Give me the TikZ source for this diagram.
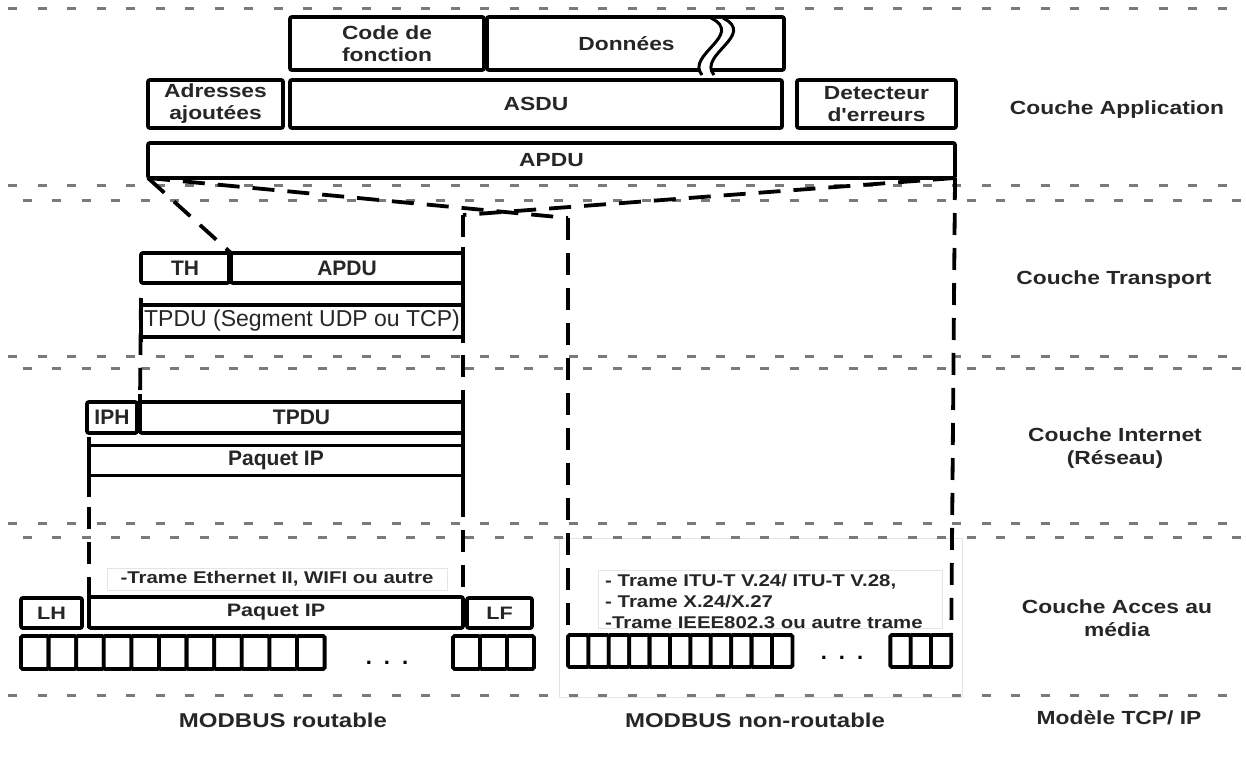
\documentclass[tikz,border=0pt]{standalone}
\usepackage{fontspec}
\setmainfont{Liberation Sans}
\newfontfamily\widesans[FakeStretch=1.2]{Liberation Sans}
\usetikzlibrary{calc}

\begin{document}
\begin{tikzpicture}[x=1pt,y=-1pt,
    sep/.style={draw=black!52,line width=3pt,dash pattern=on 9pt off 20.5pt},
    link/.style={line width=3.8pt,dash pattern=on 22pt off 13pt},
    edge/.style={line width=3.8pt},
    faint/.style={draw=black!10,line width=0.8pt},
    box/.style={draw,fill=white,line width=3.8pt,rounded corners=2pt,inner sep=0pt,outer sep=0pt,text=black!85},
    appbox/.style={box,align=center,font=\widesans\bfseries\fontsize{19}{22}\selectfont},
    midbox/.style={box,font=\bfseries\fontsize{21}{24}\selectfont},
    lowbox/.style={box,font=\widesans\bfseries\fontsize{18}{22}\selectfont},
    bit/.style={box,rounded corners=1.5pt},
    lab/.style={align=center,text=black!85,font=\widesans\bfseries\fontsize{19}{23}\selectfont},
    dots/.style={inner sep=0pt,font=\bfseries\fontsize{22}{22}\selectfont}]
\useasboundingbox (0,0) rectangle (1246,759);
% faint frames
\draw[faint] (559,538) rectangle (962,697);
% layer separators
\foreach \y/\ph in {9/0,186/0,201/15,356/0,368/15,523/0,537/15,695/0}
  \draw[sep,dash phase=\ph pt] (8,\y) -- (1244,\y);
% application layer
\node[appbox,minimum width=194,minimum height=53] (code) at (387,43.5) {Code de\\fonction};
\node[appbox,minimum width=297,minimum height=53] (donnees) at (635.5,43.5) {Donn\'ees\hspace{18pt}};
\fill[white] (712,19) .. controls (746,35) and (686,55) .. (702,75) -- (714,75) .. controls (698,55) and (758,35) .. (724,19) -- cycle;
\draw[line width=3pt] (711,18) .. controls (745,35) and (685,55) .. (702,75);
\draw[line width=3pt] (723,18) .. controls (757,35) and (697,55) .. (714,75);
\node[appbox,minimum width=135,minimum height=48] (adr) at (215.5,104) {Adresses\\ajout\'ees};
\node[appbox,minimum width=492,minimum height=48] (asdu) at (536,104) {ASDU};
\node[appbox,minimum width=159,minimum height=48] (det) at (876.5,104) {Detecteur\\d'erreurs};
\node[appbox,minimum width=807,minimum height=35] (apdu) at (551.5,160.5) {APDU};
% transport layer
\node[midbox,minimum width=88,minimum height=30] (th) at (185,268) {TH};
\node[midbox,minimum width=232,minimum height=30] (apdub) at (347,268) {APDU};
\coordinate (rtop) at (463,215);
\coordinate (ntop) at (568,218);
% internet layer
\node[midbox,minimum width=50,minimum height=31] (iph) at (112,417.5) {IPH};
\node[midbox,minimum width=323,minimum height=31] (tpdu) at (301.5,417.5) {TPDU};
% access layer
\node[lowbox,minimum width=61,minimum height=30] (lh) at (51.5,613) {LH};
\node[lowbox,minimum width=374,minimum height=31] (ipb) at (276,612.5) {Paquet IP};
\node[lowbox,minimum width=65,minimum height=30] (lf) at (499.5,613) {LF};
\foreach \i in {0,...,10} \node[bit,minimum width=27.6,minimum height=33] (rb\i) at ({34.8+27.6*\i},652.5) {};
\foreach \i in {0,1,2} \node[bit,minimum width=27,minimum height=33] (rc\i) at ({466.5+27*\i},652.5) {};
\foreach \i in {0,...,10} \node[bit,minimum width=20.4,minimum height=32] (nb\i) at ({578.2+20.4*\i},651) {};
\foreach \i in {0,1,2} \node[bit,minimum width=20.3,minimum height=32] (nc\i) at ({900.5+20.3*\i},651) {};
% zoom lines
\draw[link] (apdu.south west) -- (apdub.north west);
\draw[link] (apdu.south west) -- (ntop);
\draw[link] (apdu.south east) -- (rtop);
\draw[link] (rtop) -- (ipb.north east);
\draw[link] (ntop) -- (nb0.north west);
\draw[link] (apdu.south east) -- (nc2.north east);
\node[box,rounded corners=0pt,minimum width=322,minimum height=32,font=\fontsize{23}{26}\selectfont] (seg) at (302,321) {TPDU (Segment UDP ou TCP)};
\node[box,rounded corners=0pt,line width=3pt,minimum width=374,minimum height=30,font=\bfseries\fontsize{21}{24}\selectfont] (ip) at (276,460) {Paquet IP};
\draw[link] ([yshift=7pt]seg.north west) -- (tpdu.north west);
\draw[link] ([yshift=8pt]ip.north west) -- (ipb.north west);
\draw[edge] ([yshift=7pt]seg.north west) -- ([yshift=-5pt]seg.south west);
\draw[edge] ([yshift=6pt]apdub.north east) -- ([yshift=-6pt]seg.south east);
\draw[edge] ([yshift=8pt]tpdu.north west) -- (tpdu.south west);
\draw[edge] ([yshift=8pt]ip.north west) -- ([yshift=-22pt]ip.south west);
\draw[edge] ([yshift=8pt]ip.north east) -- ([yshift=-22pt]ip.south east);
\draw[edge] ([yshift=7pt]ipb.north west) -- (ipb.south west);
% frame texts
\node[faint,minimum width=340,minimum height=22,text=black!85,font=\widesans\bfseries\fontsize{17}{21}\selectfont] (eth) at (277,579) {-Trame Ethernet II, WIFI ou autre};
\node[faint,minimum width=344,minimum height=58,inner sep=0pt] (nrf) at (770,599) {};
\node[anchor=west,align=left,inner sep=0pt,text=black!85,font=\widesans\bfseries\fontsize{17}{21}\selectfont] (nrt) at (605,601)
  {- Trame ITU-T V.24/ ITU-T V.28,\\- Trame X.24/X.27\\-Trame IEEE802.3 ou autre trame};
\node[dots] (rdots) at (387,663) {.\hspace{12pt}.\hspace{12pt}.};
\node[dots] (ndots) at (842,658) {.\hspace{12pt}.\hspace{12pt}.};
% layer names
\node[lab] (lapp) at (1117,110) {Couche Application};
\node[lab] (ltra) at (1114,280) {Couche Transport};
\node[lab] (lint) at (1115,448) {Couche Internet\\(R\'eseau)};
\node[lab] (lacc) at (1117,618) {Couche Acces au\\m\'edia};
\node[lab] (lmod) at (1119,718) {Mod\`ele TCP/ IP};
\node[lab,font=\widesans\bfseries\fontsize{20}{24}\selectfont] (mr) at (283,720) {MODBUS routable};
\node[lab,font=\widesans\bfseries\fontsize{20}{24}\selectfont] (mn) at (755,720) {MODBUS non-routable};
\end{tikzpicture}
\end{document}
